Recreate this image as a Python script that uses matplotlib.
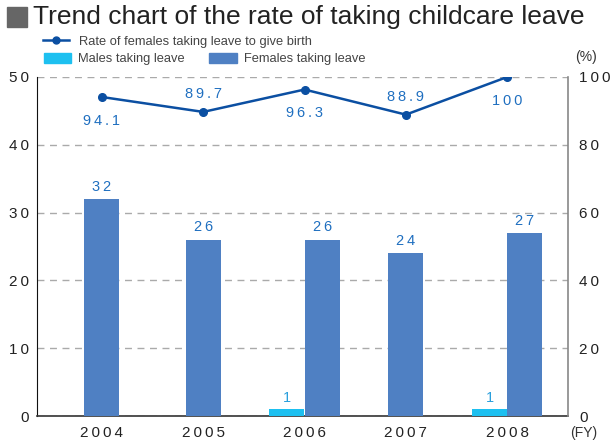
import numpy as np
import matplotlib.pyplot as plt
from matplotlib.lines import Line2D
from matplotlib.patches import Patch, Rectangle

plt.rcParams['font.family'] = ['Liberation Sans', 'DejaVu Sans']

# data
years = ['2004', '2005', '2006', '2007', '2008']
males = [0, 0, 1, 0, 1]
females = [32, 26, 26, 24, 27]
birth_rate = [94.1, 89.7, 96.3, 88.9, 100]
# where the rate label sits: -1 below the point, +1 above
rate_side = [-1, 1, -1, 1, -1]

male_col = '#1dc0f0'
female_col = '#4f80c3'
line_col = '#0b4fa2'
label_col = '#1f6fc0'


def spaced(s):
    return '\u2009'.join(str(s))


fig = plt.figure(figsize=(6.1, 4.45), dpi=100)
ax = fig.add_axes([37 / 610, 29 / 445, 531 / 610, 339 / 445])

x = np.arange(len(years))
w = 0.345
for i in x:
    if males[i] > 0:
        ax.bar(i - 0.175, males[i], w, color=male_col, zorder=3)
        ax.bar(i + 0.175, females[i], w, color=female_col, zorder=3)
        ax.text(i - 0.175, males[i] + 0.6, spaced(males[i]), ha='center',
                va='bottom', fontsize=10.5, color='#2a9fdc')
        fx = i + 0.175
    else:
        ax.bar(i, females[i], w, color=female_col, zorder=3)
        fx = i
    ax.text(fx, females[i] + 0.8, spaced(females[i]), ha='center',
            va='bottom', fontsize=10.5, color=label_col)

ax.set_xlim(-0.64, 4.6)
ax.set_ylim(0, 50)
ax.set_yticks(range(0, 51, 10))
ax.set_yticklabels([spaced(v) for v in range(0, 51, 10)],
                   fontsize=11, color='#222')
ax.set_xticks(x)
ax.set_xticklabels([spaced(y) for y in years], fontsize=11, color='#222')
ax.tick_params(length=0, pad=6)
ax.tick_params(axis='x', pad=7)
ax.grid(axis='y', color='#aaaaaa', linestyle=(0, (5, 4)), linewidth=1, zorder=0)
for s in ['top', 'right']:
    ax.spines[s].set_visible(False)
ax.spines['left'].set_color('#111')
ax.spines['bottom'].set_color('#333')
ax.spines['bottom'].set_linewidth(1.2)

ax2 = ax.twinx()
ax2.set_ylim(0, 100)
ax2.set_yticks(range(0, 101, 20))
ax2.set_yticklabels([spaced(v) for v in range(0, 101, 20)],
                    fontsize=11, color='#222')
ax2.tick_params(length=0, pad=8)
for s in ['top', 'left', 'bottom']:
    ax2.spines[s].set_visible(False)
ax2.spines['right'].set_color('#888')
ax2.spines['right'].set_linewidth(1.2)

ax2.plot(x, birth_rate, color=line_col, lw=1.8, marker='o', ms=5.5, zorder=5)
for i, v in enumerate(birth_rate):
    off = 13 if rate_side[i] > 0 else -17
    ax2.annotate(spaced(v), (i, v), xytext=(0, off), textcoords='offset points',
                 ha='center', va='center', fontsize=10.5, color=label_col)

fig.text(575 / 610, 1 - 57 / 445, '(%)', fontsize=10, color='#333',
         ha='left', va='center')
fig.text(570 / 610, 1 - 433 / 445, '(FY)', fontsize=10, color='#333',
         ha='left', va='center')

# title
fig.patches.append(Rectangle((7 / 610, 1 - 27 / 445), 20 / 610, 20 / 445,
                             transform=fig.transFigure, color='#666666'))
fig.text(33 / 610, 1 - 17 / 445, 'Trend chart of the rate of taking childcare leave',
         fontsize=19, color='#222', ha='left', va='center')

# legends
h1 = [Line2D([], [], color=line_col, lw=1.8, marker='o', ms=5)]
leg1 = fig.legend(h1, ['Rate of females taking leave to give birth'],
                  loc='center left', bbox_to_anchor=(43 / 610, 1 - 42 / 445),
                  frameon=False, fontsize=9.3, handlelength=2.0,
                  handletextpad=0.8, borderaxespad=0, borderpad=0)
for t in leg1.get_texts():
    t.set_color('#444')
h2 = [Patch(color=male_col), Patch(color=female_col)]
leg2 = fig.legend(h2, ['Males taking leave', 'Females taking leave'],
                  loc='center left', bbox_to_anchor=(44 / 610, 1 - 59 / 445),
                  ncol=2, frameon=False, fontsize=9.3, handlelength=2.1,
                  handleheight=0.9, handletextpad=0.55, columnspacing=1.9,
                  borderaxespad=0, borderpad=0)
for t in leg2.get_texts():
    t.set_color('#444')

fig.savefig('out.png', dpi=100)
